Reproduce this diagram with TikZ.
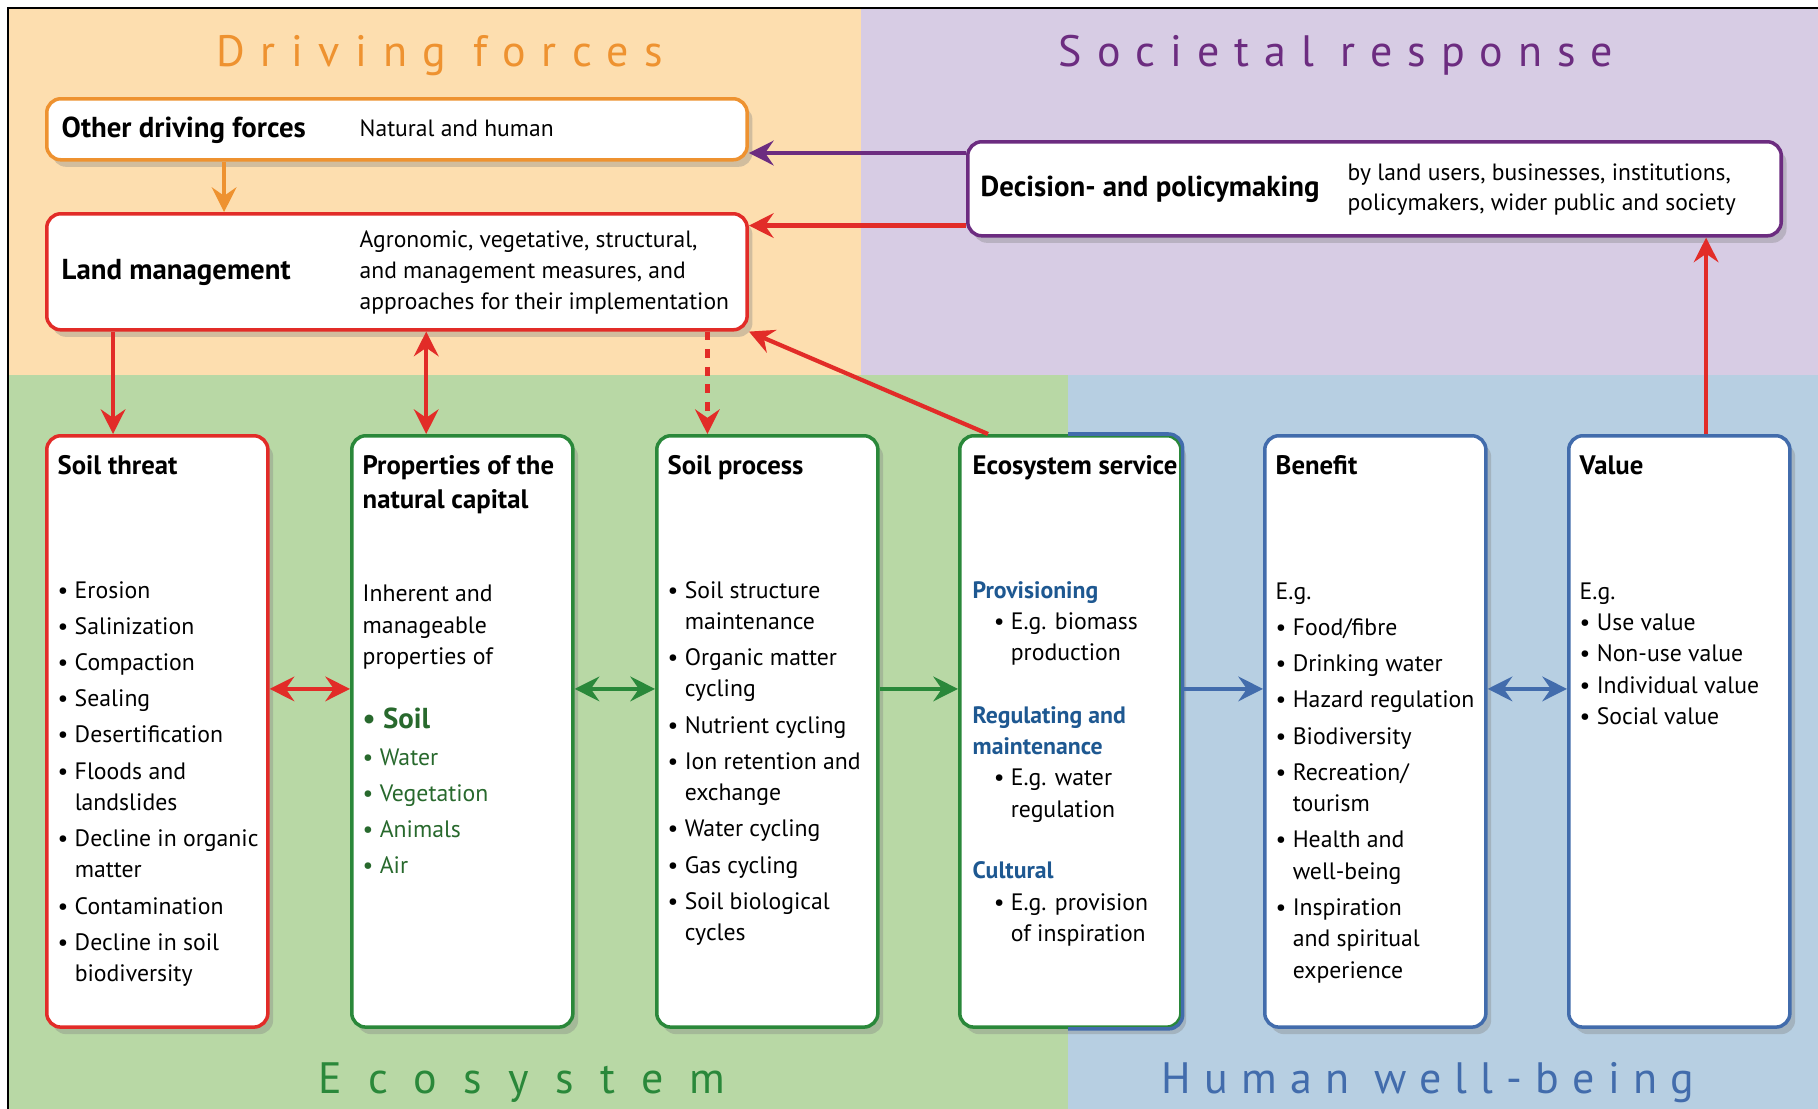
\documentclass[tikz,border=0pt]{standalone}
\usepackage{fontspec}
\setmainfont{PT Sans}
\newfontfamily\spacedfont{PT Sans}
\usetikzlibrary{arrows.meta,shadows}
\definecolor{dfbg}{RGB}{253,222,175}
\definecolor{srbg}{RGB}{215,204,228}
\definecolor{ecbg}{RGB}{184,216,165}
\definecolor{hwbg}{RGB}{183,207,226}
\definecolor{dforange}{RGB}{238,146,48}
\definecolor{lmred}{RGB}{226,44,40}
\definecolor{srpurple}{RGB}{108,44,128}
\definecolor{ecgreen}{RGB}{42,136,58}
\definecolor{hwblue}{RGB}{66,108,172}
\definecolor{esblue}{RGB}{30,88,145}
\definecolor{ncgreen}{RGB}{40,105,45}
\newcommand{\bitem}{\textbullet\ }
\newcommand{\bcont}{\hphantom{\textbullet\ }}

\begin{document}
\begin{tikzpicture}[x=0.01cm,y=-0.01cm,
  box/.style={draw=#1, line width=1pt, fill=white, rounded corners=4pt,
    drop shadow={opacity=0.35,shadow xshift=1.5pt,shadow yshift=-2pt},
    inner sep=0pt, anchor=north west},
  col/.style={box=#1, minimum width=2.21cm, minimum height=5.91cm},
  body/.style={anchor=north west, align=left, inner sep=0pt, font=\fontsize{6.75}{8.9}\selectfont, execute at begin node=\strut},
  head/.style={anchor=north west, align=left, inner sep=0pt, font=\fontsize{7.6}{9.7}\selectfont\bfseries, execute at begin node=\strut},
  toptext/.style={anchor=north west, align=left, inner sep=0pt, font=\fontsize{6.7}{8.7}\selectfont, execute at begin node=\strut},
  toptitle/.style={anchor=base west, inner sep=0pt, font=\fontsize{8.2}{9}\selectfont\bfseries},
  area/.style={anchor=base, inner sep=0pt, text=#1},
  arr/.style={line width=1.2pt, -{Stealth[length=7pt,width=7pt,inset=2.4pt]}},
  biarr/.style={line width=1.2pt, {Stealth[length=7pt,width=7pt,inset=2.4pt]}-{Stealth[length=7pt,width=7pt,inset=2.4pt]}}]
\useasboundingbox (0,0) rectangle (1818,1109);
\fill[white] (0,0) rectangle (1818,1109);

% Four background areas
\fill[dfbg] (8,8) rectangle (861,375);
\fill[srbg] (861,8) rectangle (1818,375);
\fill[ecbg] (8,375) rectangle (1068,1109);
\fill[hwbg] (1068,375) rectangle (1818,1109);
\draw[line width=0.5pt] (8,1109) -- (8,8) -- (1818,8);

\node[area=dforange, font=\spacedfont\addfontfeatures{LetterSpace=35.5}\fontsize{12.5}{14}\selectfont] (dftitle) at (440,66) {Driving forces};
\node[area=srpurple, font=\spacedfont\addfontfeatures{LetterSpace=34}\fontsize{12.5}{14}\selectfont] (srtitle) at (1336,66) {Societal response};
\node[area=ecgreen, font=\spacedfont\addfontfeatures{LetterSpace=60}\fontsize{12.5}{14}\selectfont] (ectitle) at (522,1093) {Ecosystem};
\node[area=hwblue, font=\spacedfont\addfontfeatures{LetterSpace=30}\fontsize{12.5}{14}\selectfont] (hwtitle) at (1428,1093) {Human well-being};

% Top boxes
\node[box=dforange, minimum width=7.0cm, minimum height=0.61cm] (other) at (45,97) {};
\node[box=lmred, minimum width=7.0cm, minimum height=1.16cm] (land) at (45,212) {};
\node[box=srpurple, minimum width=8.13cm, minimum height=0.94cm] (decision) at (966,140) {};

\node[toptitle] (otherT) at (61,137) {Other driving forces};
\node[toptext] (otherD) at (359,114.5) {Natural and human};
\node[toptitle] (landT) at (61,279) {Land management};
\node[toptext] (landD) at (359,230.5) {Agronomic, vegetative, structural,\\and management measures, and\\approaches for their implementation};
\node[toptitle] (decT) at (980,196) {Decision- and policymaking};
\node[toptext] (decD) at (1347,163) {by land users, businesses, institutions,\\policymakers, wider public and society};

% Bottom columns
\node[col=lmred] (threat) at (45,434) {};
\node[col=ecgreen] (props) at (350,434) {};
\node[col=ecgreen] (process) at (655,434) {};
\node[col=ecgreen] (service) at (958,434) {};
\node[col=hwblue] (benefit) at (1263,434) {};
\node[col=hwblue] (value) at (1567,434) {};
\begin{scope}
\clip (1068,420) rectangle (1200,1040);
\draw[hwblue, line width=1pt, rounded corners=4pt] (service.north west) rectangle (service.south east);
\end{scope}

\node[head] (threatT) at (57,450) {Soil threat};
\node[body] (threatL) at (57,580.5) {\bitem Erosion\\[1.4pt]
  \bitem Salinization\\[1.4pt]
  \bitem Compaction\\[1.4pt]
  \bitem Sealing\\[1.4pt]
  \bitem Desertification\\[1.4pt]
  \bitem Floods and\\ \bcont landslides\\[1.4pt]
  \bitem Decline in organic\\ \bcont matter\\[1.4pt]
  \bitem Contamination\\[1.4pt]
  \bitem Decline in soil\\ \bcont biodiversity};

\node[head] (propsT) at (362,454.6) {Properties of the\\natural capital};
\node[body] (propsI) at (362,584.5) {Inherent and\\manageable\\properties of};
\node[body, text=ncgreen] (propsL) at (362,707.5) {{\bfseries\fontsize{8.2}{8.9}\selectfont\bitem Soil}\\[1.4pt]
  \bitem Water\\[1.4pt]
  \bitem Vegetation\\[1.4pt]
  \bitem Animals\\[1.4pt]
  \bitem Air};

\node[head] (processT) at (667,450) {Soil process};
\node[body] (processL) at (667,580.5) {\bitem Soil structure\\ \bcont maintenance\\[1.4pt]
  \bitem Organic matter\\ \bcont cycling\\[1.4pt]
  \bitem Nutrient cycling\\[1.4pt]
  \bitem Ion retention and\\ \bcont exchange\\[1.4pt]
  \bitem Water cycling\\[1.4pt]
  \bitem Gas cycling\\[1.4pt]
  \bitem Soil biological\\ \bcont cycles};

\node[head] (serviceT) at (972,450) {Ecosystem service};
\node[body] (serviceL) at (972,580.5) {{\bfseries\color{esblue}Provisioning}\\
  \hspace*{6pt}\bitem E.g. biomass\\
  \hspace*{6pt}\bcont production\\[8.85pt]
  {\bfseries\color{esblue}Regulating and}\\
  {\bfseries\color{esblue}maintenance}\\
  \hspace*{6pt}\bitem E.g. water\\
  \hspace*{6pt}\bcont regulation\\[8.65pt]
  {\bfseries\color{esblue}Cultural}\\
  \hspace*{6pt}\bitem E.g. provision\\
  \hspace*{6pt}\bcont of inspiration};

\node[head] (benefitT) at (1275,450) {Benefit};
\node[body] (benefitL) at (1275,582) {E.g.\\[1.4pt]
  \bitem Food/fibre\\[1.4pt]
  \bitem Drinking water\\[1.4pt]
  \bitem Hazard regulation\\[1.4pt]
  \bitem Biodiversity\\[1.4pt]
  \bitem Recreation/\\ \bcont tourism\\[1.4pt]
  \bitem Health and\\ \bcont well-being\\[1.4pt]
  \bitem Inspiration\\ \bcont and spiritual\\ \bcont experience};

\node[head] (valueT) at (1579,450) {Value};
\node[body] (valueL) at (1579,582) {E.g.\\ \bitem Use value\\ \bitem Non-use value\\ \bitem Individual value\\ \bitem Social value};

% Arrows between the boxes
\draw[arr, dforange] ([xshift=1.79cm]other.south west) -- ([xshift=1.79cm]land.north west);
\draw[arr, srpurple] ([yshift=-0.13cm]decision.north west) -- ([yshift=-0.13cm]decision.north west -| other.east);
\draw[arr, lmred] ([yshift=0.12cm]decision.south west) -- ([yshift=0.12cm]decision.south west -| land.east);
\draw[arr, lmred] ([xshift=0.68cm]land.south west) -- ([xshift=0.68cm]land.south west |- threat.north);
\draw[biarr, lmred] ([xshift=3.81cm]land.south west) -- ([xshift=3.81cm]land.south west |- props.north);
\draw[arr, lmred, dash pattern=on 2.5pt off 2.5pt] ([xshift=6.62cm]land.south west) -- ([xshift=6.62cm]land.south west |- process.north);
\draw[arr, lmred] ([xshift=0.3cm]service.north west) -- (land.south east);
\draw[arr, lmred] ([xshift=1.39cm]value.north west) -- ([xshift=1.39cm]value.north west |- decision.south);

\draw[biarr, lmred] ([yshift=0.425cm]threat.east) -- ([yshift=0.425cm]props.west);
\draw[biarr, ecgreen] ([yshift=0.425cm]props.east) -- ([yshift=0.425cm]process.west);
\draw[arr, ecgreen] ([yshift=0.425cm]process.east) -- ([yshift=0.425cm]service.west);
\draw[arr, hwblue] ([yshift=0.425cm]service.east) -- ([yshift=0.425cm]benefit.west);
\draw[biarr, hwblue] ([yshift=0.425cm]benefit.east) -- ([yshift=0.425cm]value.west);
\end{tikzpicture}
\end{document}
